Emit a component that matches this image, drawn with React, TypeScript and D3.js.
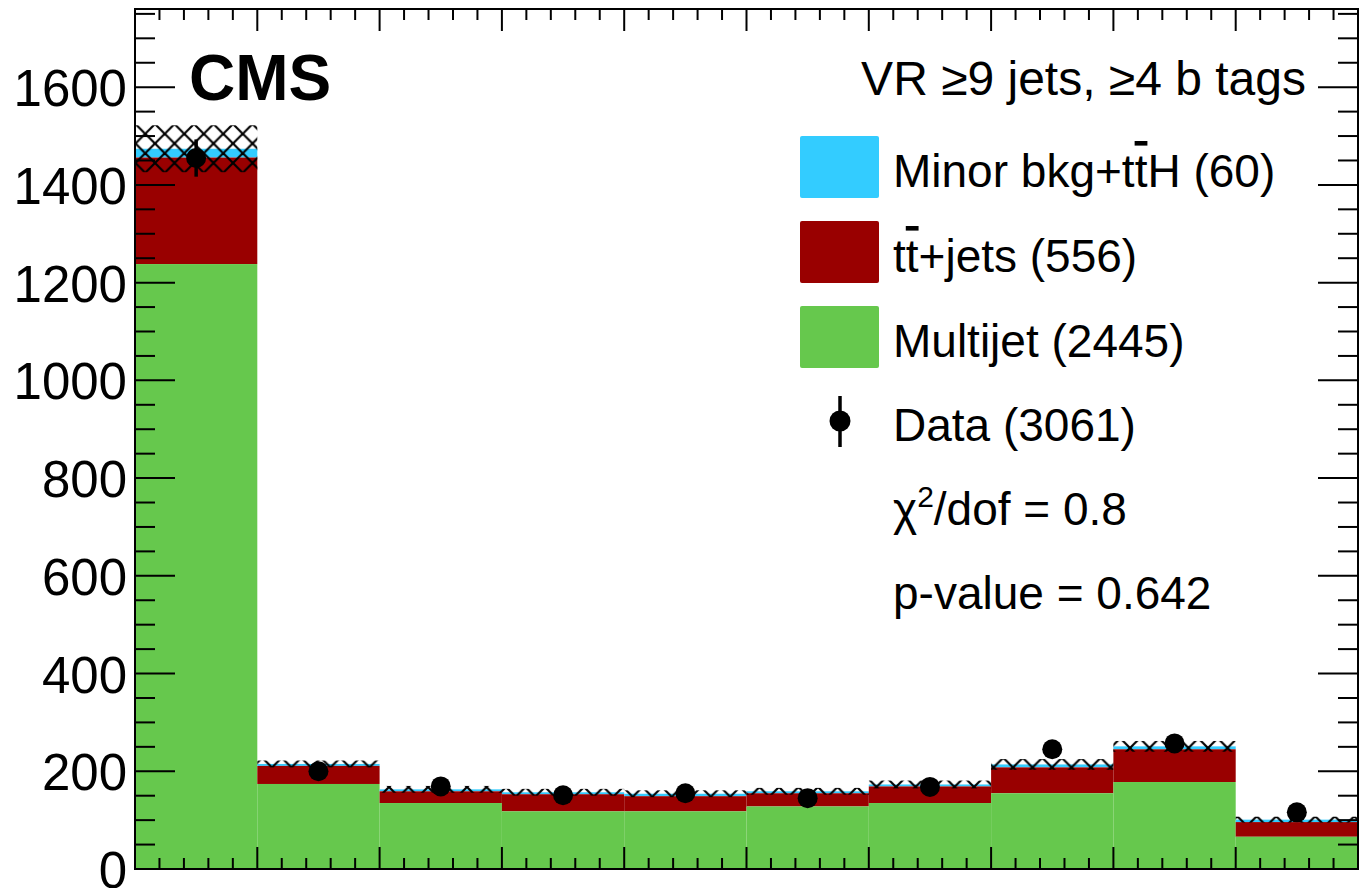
import * as d3 from "d3";
import React from "react";

// bins 0..9, no axis labels on the x axis in this crop
const bins = [0, 1, 2, 3, 4, 5, 6, 7, 8, 9];
const multijet = [1238, 174, 135, 118, 118, 128, 135, 155, 178, 66];
const ttjets = [218, 37, 24, 35, 31, 27, 34, 53, 67, 30];
const minor = [18, 4, 4, 4, 5, 4, 4, 6, 6, 5];
const bkgUnc = [48, 7, 7, 7, 7, 7, 8, 11, 11, 6];
const dataCounts = [1455, 200, 169, 151, 155, 145, 168, 245, 257, 116];

const yMajor = [0, 200, 400, 600, 800, 1000, 1200, 1400, 1600];

const legendRows = [
  { key: "minor", color: "#33ccff" },
  { key: "tt", color: "#990000" },
  { key: "multi", color: "#66c84d" },
];

const W = 1359;
const H = 888;
const frame = { left: 135, right: 1358, top: 9, bottom: 869 };
const font = "'Liberation Sans', Arial, Helvetica, sans-serif";

export default function App() {
  const x = d3.scaleLinear().domain([0, 10]).range([frame.left, frame.right]);
  const y = d3.scaleLinear().domain([0, 1760]).range([frame.bottom, frame.top]);

  const stacked = bins.map((b, i) => {
    const g = multijet[i];
    const r = g + ttjets[i];
    const c = r + minor[i];
    return { b, g, r, c };
  });

  const xMinor = d3.range(0, 10.001, 0.2);
  const yMinor = d3.range(0, 1760, 50);
  const isMajorX = (v: number) => Math.abs(v - Math.round(v)) < 1e-6;

  const bw = x(1) - x(0);

  return (
    <svg
      width={W}
      height={H}
      style={{ position: "absolute", left: 0, top: 0, background: "#fff" }}
      fontFamily={font}
    >
      <defs>
        <clipPath id="plotclip">
          <rect x={frame.left} y={frame.top} width={frame.right - frame.left} height={frame.bottom - frame.top} />
        </clipPath>
        <pattern
          id="hatch"
          patternUnits="userSpaceOnUse"
          width={19.5}
          height={19.5}
          patternTransform="translate(1120.25,738.25)"
        >
          <line x1={-1} y1={-1} x2={20.5} y2={20.5} stroke="#000" strokeWidth={2.2} />
          <line x1={20.5} y1={-1} x2={-1} y2={20.5} stroke="#000" strokeWidth={2.2} />
        </pattern>
      </defs>

      <g clipPath="url(#plotclip)">
        {stacked.map((d) => (
          <g key={d.b}>
            <rect x={x(d.b)} y={y(d.c)} width={bw} height={y(d.r) - y(d.c)} fill="#33ccff" />
            <rect x={x(d.b)} y={y(d.r)} width={bw} height={y(d.g) - y(d.r)} fill="#990000" />
            <rect x={x(d.b)} y={y(d.g)} width={bw} height={y(0) - y(d.g)} fill="#66c84d" />
          </g>
        ))}
        {stacked.map((d, i) => (
          <rect
            key={"u" + d.b}
            x={x(d.b)}
            y={y(d.c + bkgUnc[i])}
            width={bw}
            height={y(d.c - bkgUnc[i]) - y(d.c + bkgUnc[i])}
            fill="url(#hatch)"
          />
        ))}
        {dataCounts.map((n, i) => {
          const cx = x(i + 0.5);
          const e = Math.sqrt(n);
          return (
            <g key={"d" + i}>
              <line x1={cx} x2={cx} y1={y(n + e)} y2={y(n - e)} stroke="#000" strokeWidth={3.5} />
              <circle cx={cx} cy={y(n)} r={10} fill="#000" />
            </g>
          );
        })}
      </g>

      {/* axes ticks */}
      <g stroke="#000" strokeWidth={2}>
        {xMinor.map((v) => {
          const len = isMajorX(v) ? 22 : 11;
          return (
            <g key={"xt" + v}>
              <line x1={x(v)} x2={x(v)} y1={frame.bottom} y2={frame.bottom - len} />
              <line x1={x(v)} x2={x(v)} y1={frame.top} y2={frame.top + len} />
            </g>
          );
        })}
        {yMinor.map((v) => {
          const len = v % 200 === 0 ? 40 : 20;
          return (
            <g key={"yt" + v}>
              <line x1={frame.left} x2={frame.left + len} y1={y(v)} y2={y(v)} />
              <line x1={frame.right} x2={frame.right - len} y1={y(v)} y2={y(v)} />
            </g>
          );
        })}
        <rect
          x={frame.left}
          y={frame.top}
          width={frame.right - frame.left}
          height={frame.bottom - frame.top}
          fill="none"
        />
      </g>

      {yMajor.map((v) => (
        <text key={"yl" + v} x={127} y={y(v) + 19} textAnchor="end" fontSize={51} fill="#000">
          {v}
        </text>
      ))}

      <text x={189} y={100} fontSize={64} fontWeight="bold" fill="#000">
        CMS
      </text>
      <text x={1306} y={95} fontSize={48} textAnchor="end" fill="#000">
        VR ≥9 jets, ≥4 b tags
      </text>

      {/* legend */}
      {legendRows.map((r, i) => (
        <rect key={r.key} x={800} y={136 + i * 85} width={79} height={62} rx={2} fill={r.color} />
      ))}
      <g fontSize={46} fill="#000">
        <text x={893} y={187}>
          Minor bkg+t<tspan textDecoration="overline">t</tspan>H (60)
        </text>
        <text x={893} y={272}>
          t<tspan textDecoration="overline">t</tspan>+jets (556)
        </text>
        <text x={893} y={357}>
          Multijet (2445)
        </text>
        <text x={893} y={441}>
          Data (3061)
        </text>
        <text x={893} y={525}>
          χ<tspan fontSize={30} dy={-18}>2</tspan>
          <tspan dy={18}>/dof = 0.8</tspan>
        </text>
        <text x={893} y={609}>
          p-value = 0.642
        </text>
      </g>
      <line x1={840} x2={840} y1={396} y2={447} stroke="#000" strokeWidth={3.5} />
      <circle cx={840} cy={421} r={10.5} fill="#000" />
    </svg>
  );
}
